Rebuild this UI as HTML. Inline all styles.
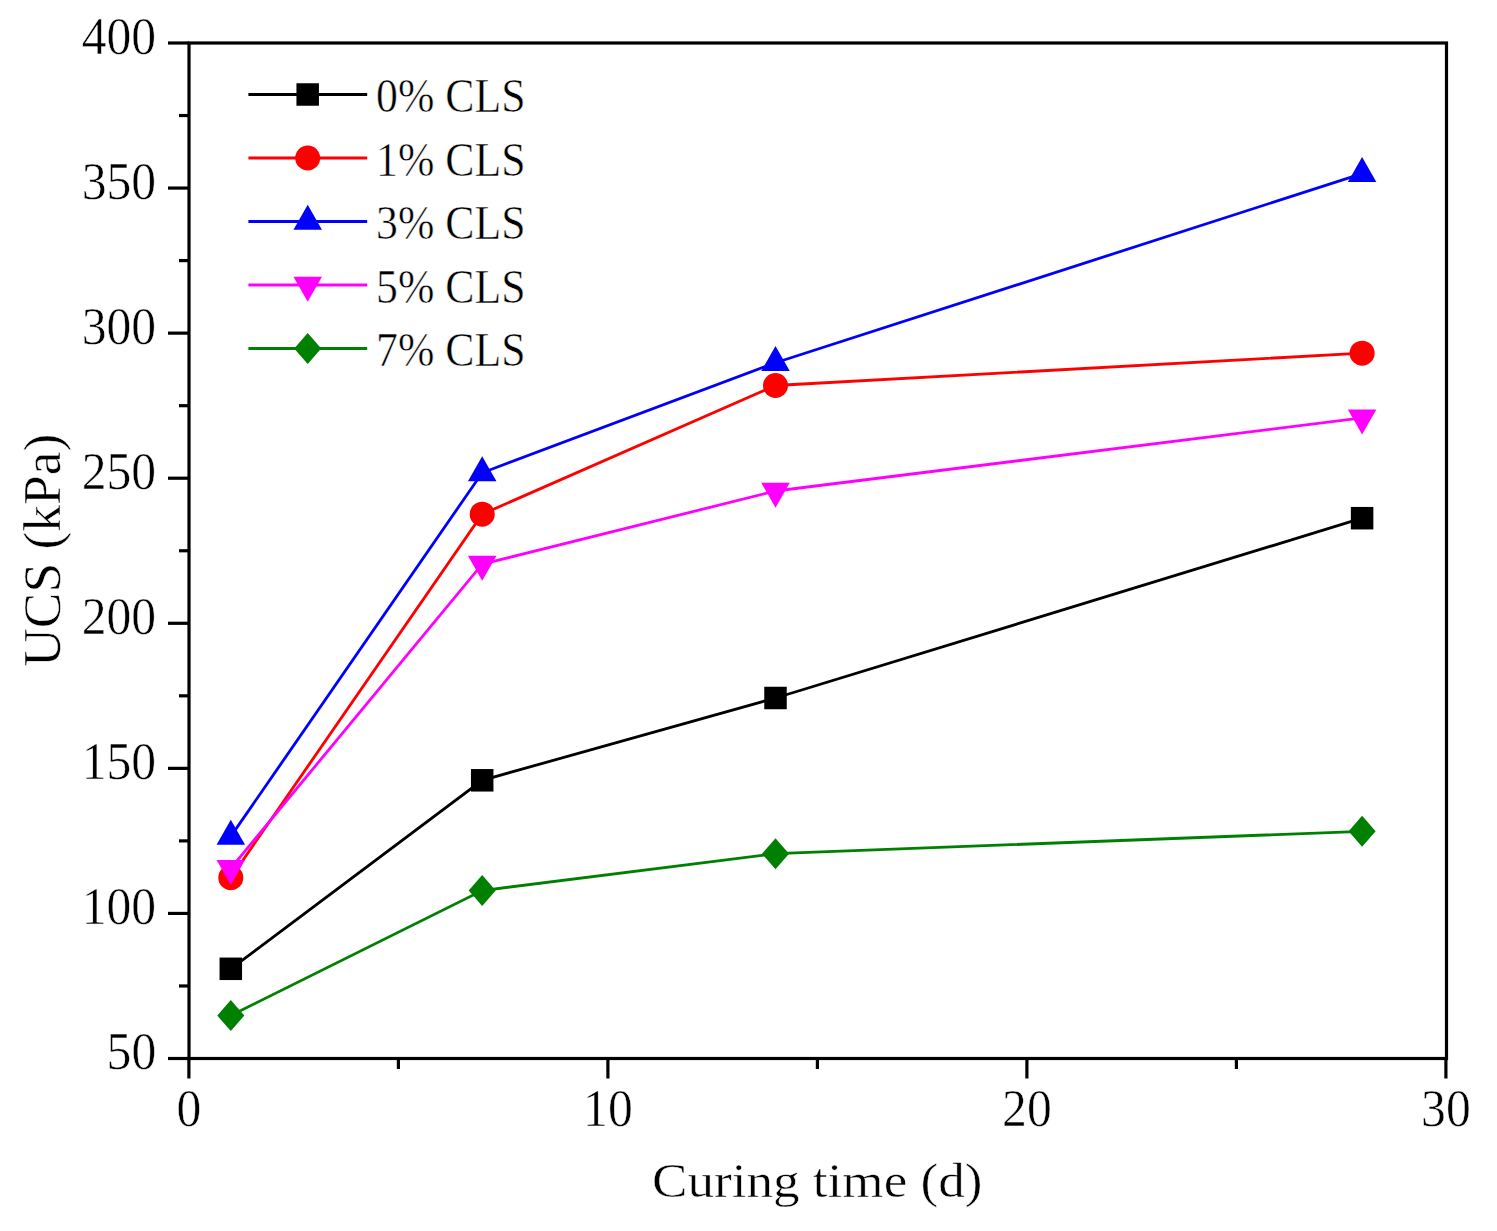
<!DOCTYPE html>
<html><head><meta charset="utf-8"><style>
html,body{margin:0;padding:0;background:#fff;width:1497px;height:1231px;overflow:hidden}
svg{display:block;font-family:'Liberation Serif', serif;}
</style></head><body>
<svg width="1497" height="1231" viewBox="0 0 1497 1231">
<rect width="1497" height="1231" fill="#fff"/>
<rect x="189.0" y="43.0" width="1257.5" height="1015.5" fill="none" stroke="#000" stroke-width="3.2" stroke-linecap="square"/>
<line x1="168" y1="1058.50" x2="189.0" y2="1058.50" stroke="#000" stroke-width="3.2"/>
<text transform="translate(156.2 1069.20) scale(0.955 1)" font-size="52" text-anchor="end" stroke="#fff" stroke-width="0.5">50</text>
<line x1="168" y1="913.43" x2="189.0" y2="913.43" stroke="#000" stroke-width="3.2"/>
<text transform="translate(156.2 924.13) scale(0.955 1)" font-size="52" text-anchor="end" stroke="#fff" stroke-width="0.5">100</text>
<line x1="168" y1="768.36" x2="189.0" y2="768.36" stroke="#000" stroke-width="3.2"/>
<text transform="translate(156.2 779.06) scale(0.955 1)" font-size="52" text-anchor="end" stroke="#fff" stroke-width="0.5">150</text>
<line x1="168" y1="623.29" x2="189.0" y2="623.29" stroke="#000" stroke-width="3.2"/>
<text transform="translate(156.2 633.99) scale(0.955 1)" font-size="52" text-anchor="end" stroke="#fff" stroke-width="0.5">200</text>
<line x1="168" y1="478.21" x2="189.0" y2="478.21" stroke="#000" stroke-width="3.2"/>
<text transform="translate(156.2 488.91) scale(0.955 1)" font-size="52" text-anchor="end" stroke="#fff" stroke-width="0.5">250</text>
<line x1="168" y1="333.14" x2="189.0" y2="333.14" stroke="#000" stroke-width="3.2"/>
<text transform="translate(156.2 343.84) scale(0.955 1)" font-size="52" text-anchor="end" stroke="#fff" stroke-width="0.5">300</text>
<line x1="168" y1="188.07" x2="189.0" y2="188.07" stroke="#000" stroke-width="3.2"/>
<text transform="translate(156.2 198.77) scale(0.955 1)" font-size="52" text-anchor="end" stroke="#fff" stroke-width="0.5">350</text>
<line x1="168" y1="43.00" x2="189.0" y2="43.00" stroke="#000" stroke-width="3.2"/>
<text transform="translate(156.2 53.70) scale(0.955 1)" font-size="52" text-anchor="end" stroke="#fff" stroke-width="0.5">400</text>
<line x1="179" y1="985.96" x2="189.0" y2="985.96" stroke="#000" stroke-width="3.2"/>
<line x1="179" y1="840.89" x2="189.0" y2="840.89" stroke="#000" stroke-width="3.2"/>
<line x1="179" y1="695.82" x2="189.0" y2="695.82" stroke="#000" stroke-width="3.2"/>
<line x1="179" y1="550.75" x2="189.0" y2="550.75" stroke="#000" stroke-width="3.2"/>
<line x1="179" y1="405.68" x2="189.0" y2="405.68" stroke="#000" stroke-width="3.2"/>
<line x1="179" y1="260.61" x2="189.0" y2="260.61" stroke="#000" stroke-width="3.2"/>
<line x1="179" y1="115.54" x2="189.0" y2="115.54" stroke="#000" stroke-width="3.2"/>
<line x1="188.90" y1="1058.5" x2="188.90" y2="1078.5" stroke="#000" stroke-width="3.2"/>
<text transform="translate(188.90 1125.8) scale(0.955 1)" font-size="52" text-anchor="middle" stroke="#fff" stroke-width="0.5">0</text>
<line x1="607.90" y1="1058.5" x2="607.90" y2="1078.5" stroke="#000" stroke-width="3.2"/>
<text transform="translate(607.90 1125.8) scale(0.955 1)" font-size="52" text-anchor="middle" stroke="#fff" stroke-width="0.5">10</text>
<line x1="1026.90" y1="1058.5" x2="1026.90" y2="1078.5" stroke="#000" stroke-width="3.2"/>
<text transform="translate(1026.90 1125.8) scale(0.955 1)" font-size="52" text-anchor="middle" stroke="#fff" stroke-width="0.5">20</text>
<line x1="1445.90" y1="1058.5" x2="1445.90" y2="1078.5" stroke="#000" stroke-width="3.2"/>
<text transform="translate(1445.90 1125.8) scale(0.955 1)" font-size="52" text-anchor="middle" stroke="#fff" stroke-width="0.5">30</text>
<line x1="398.40" y1="1058.5" x2="398.40" y2="1069" stroke="#000" stroke-width="3.2"/>
<line x1="817.40" y1="1058.5" x2="817.40" y2="1069" stroke="#000" stroke-width="3.2"/>
<line x1="1236.40" y1="1058.5" x2="1236.40" y2="1069" stroke="#000" stroke-width="3.2"/>
<text x="652" y="1196.5" font-size="47.7" textLength="330.5" lengthAdjust="spacingAndGlyphs" stroke="#fff" stroke-width="0.5">Curing time (d)</text>
<text transform="translate(59.8 666.8) rotate(-90)" x="0" y="0" font-size="52.3" textLength="233" lengthAdjust="spacingAndGlyphs" stroke="#fff" stroke-width="0.5">UCS (kPa)</text>
<polyline points="230.80,968.80 482.20,780.30 775.50,698.00 1362.10,518.20" fill="none" stroke="#000000" stroke-width="2.8" stroke-linejoin="miter"/>
<rect x="219.55" y="957.55" width="22.5" height="22.5" fill="#000000"/>
<rect x="470.95" y="769.05" width="22.5" height="22.5" fill="#000000"/>
<rect x="764.25" y="686.75" width="22.5" height="22.5" fill="#000000"/>
<rect x="1350.85" y="506.95" width="22.5" height="22.5" fill="#000000"/>
<polyline points="230.80,877.70 482.20,514.20 775.50,385.50 1362.10,353.20" fill="none" stroke="#ff0000" stroke-width="2.8" stroke-linejoin="miter"/>
<circle cx="230.80" cy="877.70" r="12.5" fill="#ff0000"/>
<circle cx="482.20" cy="514.20" r="12.5" fill="#ff0000"/>
<circle cx="775.50" cy="385.50" r="12.5" fill="#ff0000"/>
<circle cx="1362.10" cy="353.20" r="12.5" fill="#ff0000"/>
<polyline points="230.80,836.40 482.20,472.80 775.50,362.70 1362.10,173.60" fill="none" stroke="#0000ff" stroke-width="2.8" stroke-linejoin="miter"/>
<path d="M230.80 819.73L245.05 844.73L216.55 844.73Z" fill="#0000ff"/>
<path d="M482.20 456.13L496.45 481.13L467.95 481.13Z" fill="#0000ff"/>
<path d="M775.50 346.03L789.75 371.03L761.25 371.03Z" fill="#0000ff"/>
<path d="M1362.10 156.93L1376.35 181.93L1347.85 181.93Z" fill="#0000ff"/>
<polyline points="230.80,868.30 482.20,564.20 775.50,491.00 1362.10,417.80" fill="none" stroke="#ff00ff" stroke-width="2.8" stroke-linejoin="miter"/>
<path d="M230.80 884.97L245.05 859.97L216.55 859.97Z" fill="#ff00ff"/>
<path d="M482.20 580.87L496.45 555.87L467.95 555.87Z" fill="#ff00ff"/>
<path d="M775.50 507.67L789.75 482.67L761.25 482.67Z" fill="#ff00ff"/>
<path d="M1362.10 434.47L1376.35 409.47L1347.85 409.47Z" fill="#ff00ff"/>
<polyline points="230.80,1015.60 482.20,890.50 775.50,853.70 1362.10,831.30" fill="none" stroke="#008000" stroke-width="2.8" stroke-linejoin="miter"/>
<path d="M230.80 1000.10L244.30 1015.60L230.80 1031.10L217.30 1015.60Z" fill="#008000"/>
<path d="M482.20 875.00L495.70 890.50L482.20 906.00L468.70 890.50Z" fill="#008000"/>
<path d="M775.50 838.20L789.00 853.70L775.50 869.20L762.00 853.70Z" fill="#008000"/>
<path d="M1362.10 815.80L1375.60 831.30L1362.10 846.80L1348.60 831.30Z" fill="#008000"/>
<line x1="248.4" y1="94.50" x2="367.2" y2="94.50" stroke="#000000" stroke-width="2.8"/>
<rect x="296.45" y="83.25" width="22.5" height="22.5" fill="#000000"/>
<text x="376" y="112.00" font-size="47.7" textLength="149.5" lengthAdjust="spacingAndGlyphs" stroke="#fff" stroke-width="0.5">0% CLS</text>
<line x1="248.4" y1="158.00" x2="367.2" y2="158.00" stroke="#ff0000" stroke-width="2.8"/>
<circle cx="307.70" cy="158.00" r="12.5" fill="#ff0000"/>
<text x="376" y="175.50" font-size="47.7" textLength="149.5" lengthAdjust="spacingAndGlyphs" stroke="#fff" stroke-width="0.5">1% CLS</text>
<line x1="248.4" y1="221.50" x2="367.2" y2="221.50" stroke="#0000ff" stroke-width="2.8"/>
<path d="M307.70 204.83L321.95 229.83L293.45 229.83Z" fill="#0000ff"/>
<text x="376" y="239.00" font-size="47.7" textLength="149.5" lengthAdjust="spacingAndGlyphs" stroke="#fff" stroke-width="0.5">3% CLS</text>
<line x1="248.4" y1="285.00" x2="367.2" y2="285.00" stroke="#ff00ff" stroke-width="2.8"/>
<path d="M307.70 301.67L321.95 276.67L293.45 276.67Z" fill="#ff00ff"/>
<text x="376" y="302.50" font-size="47.7" textLength="149.5" lengthAdjust="spacingAndGlyphs" stroke="#fff" stroke-width="0.5">5% CLS</text>
<line x1="248.4" y1="348.50" x2="367.2" y2="348.50" stroke="#008000" stroke-width="2.8"/>
<path d="M307.70 333.00L321.20 348.50L307.70 364.00L294.20 348.50Z" fill="#008000"/>
<text x="376" y="366.00" font-size="47.7" textLength="149.5" lengthAdjust="spacingAndGlyphs" stroke="#fff" stroke-width="0.5">7% CLS</text>
</svg></body></html>
